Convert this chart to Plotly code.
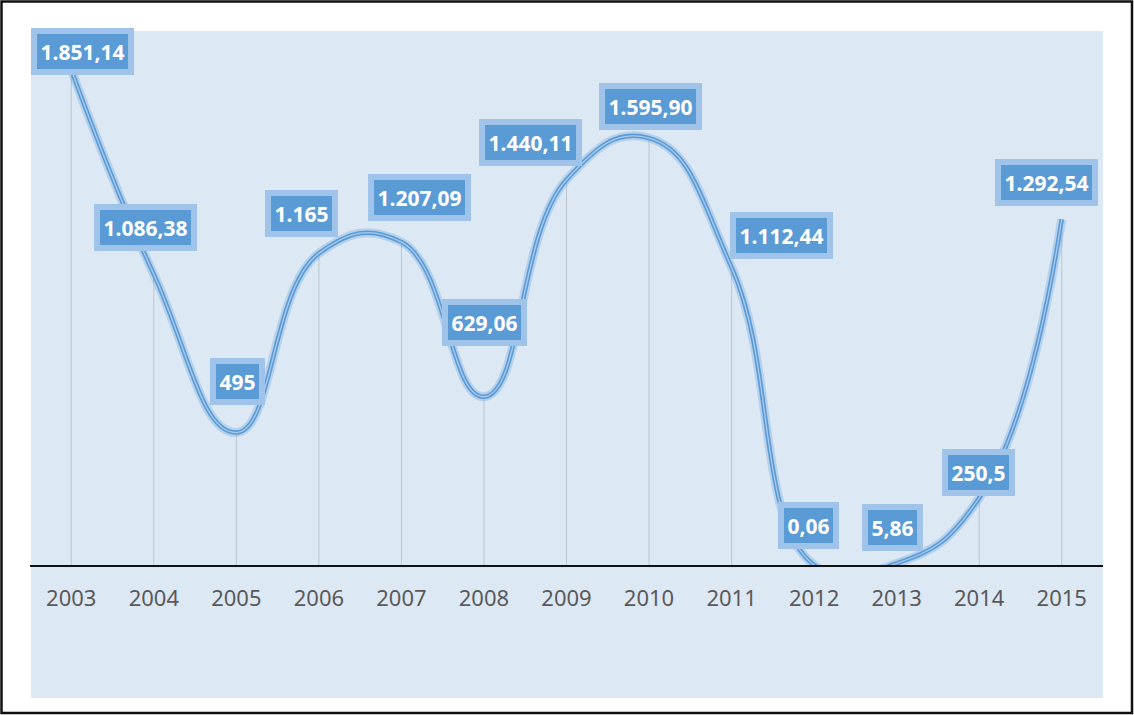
import plotly.graph_objects as go

# ---- data ----
years = ["2003", "2004", "2005", "2006", "2007", "2008", "2009",
         "2010", "2011", "2012", "2013", "2014", "2015"]
values = [1851.14, 1086.38, 495, 1165, 1207.09, 629.06, 1440.11,
          1595.90, 1112.44, 0.06, 5.86, 250.5, 1292.54]
labels = ["1.851,14", "1.086,38", "495", "1.165", "1.207,09", "629,06", "1.440,11",
          "1.595,90", "1.112,44", "0,06", "5,86", "250,5", "1.292,54"]

# label offsets (pixels) relative to each point: (dx, dy up)
label_dx = [11, -8, 1, -17, 18, 1, -36, 1, 50, -6, -4, -1, -15]
label_dy = [18, 47, 51, 40, 45, 74, 37, 32, 32, 39, 36, 25, 37]

W, H = 1134, 715
L, R, T, B = 30, 31, 30, 150
pw = W - L - R
ph = H - T - B

BG = "#dde8f5"
LINE = "#5b9bd5"

idx = list(range(len(years)))

fig = go.Figure()

# drop lines
dx, dy = [], []
for i, v in zip(idx, values):
    dx += [i, i, None]
    dy += [0, v, None]
fig.add_trace(go.Scatter(x=dx, y=dy, mode="lines",
                         line=dict(color="#bcc5d0", width=1),
                         hoverinfo="skip", showlegend=False))

SM = 1.3
# glow
fig.add_trace(go.Scatter(x=idx, y=values, mode="lines",
                         line=dict(color="rgba(91,155,213,0.30)", width=9, shape="spline", smoothing=SM),
                         hoverinfo="skip", showlegend=False))
# main line
fig.add_trace(go.Scatter(x=idx, y=values, mode="lines",
                         line=dict(color=LINE, width=4.5, shape="spline", smoothing=SM),
                         showlegend=False))
# inner highlight
fig.add_trace(go.Scatter(x=idx, y=values, mode="lines",
                         line=dict(color="#a9c9ec", width=1.3, shape="spline", smoothing=SM),
                         hoverinfo="skip", showlegend=False))

for i, v, t, ddx, ddy in zip(idx, values, labels, label_dx, label_dy):
    fig.add_annotation(x=i, y=v, xref="x", yref="y", text="<b>%s</b>" % t, showarrow=False,
                       xshift=ddx, yshift=ddy,
                       font=dict(family="Noto Sans", size=21, color="white"),
                       bgcolor=LINE, bordercolor="#a0c3e9", borderwidth=6, borderpad=3.5)

def px_x(p):
    return (p - L) / pw

def px_y(p):
    return (H - B - p) / ph

# chart area background and outer frame
fig.add_shape(type="rect", xref="paper", yref="paper", layer="below",
              x0=px_x(31), x1=px_x(1103), y0=px_y(698), y1=px_y(31),
              fillcolor=BG, line=dict(width=0))
fig.add_shape(type="rect", xref="paper", yref="paper", layer="above",
              x0=px_x(1.5), x1=px_x(1132), y0=px_y(713), y1=px_y(1.5),
              fillcolor="rgba(0,0,0,0)", line=dict(color="#111111", width=2.5))

fig.update_layout(
    width=W, height=H,
    margin=dict(l=L, r=R, t=T, b=B),
    paper_bgcolor="white",
    plot_bgcolor="rgba(0,0,0,0)",
    showlegend=False,
    xaxis=dict(range=[-0.5, 12.5], showgrid=False, zeroline=False,
               tickmode="array", tickvals=idx, ticktext=years,
               showline=True, linecolor="#111111", linewidth=2,
               ticks="", ticklabelstandoff=13,
               tickfont=dict(family="Noto Sans", size=22, color="#595959"),
               fixedrange=True),
    yaxis=dict(range=[0, 2000], visible=False, fixedrange=True),
)

fig.write_html("out.html")
